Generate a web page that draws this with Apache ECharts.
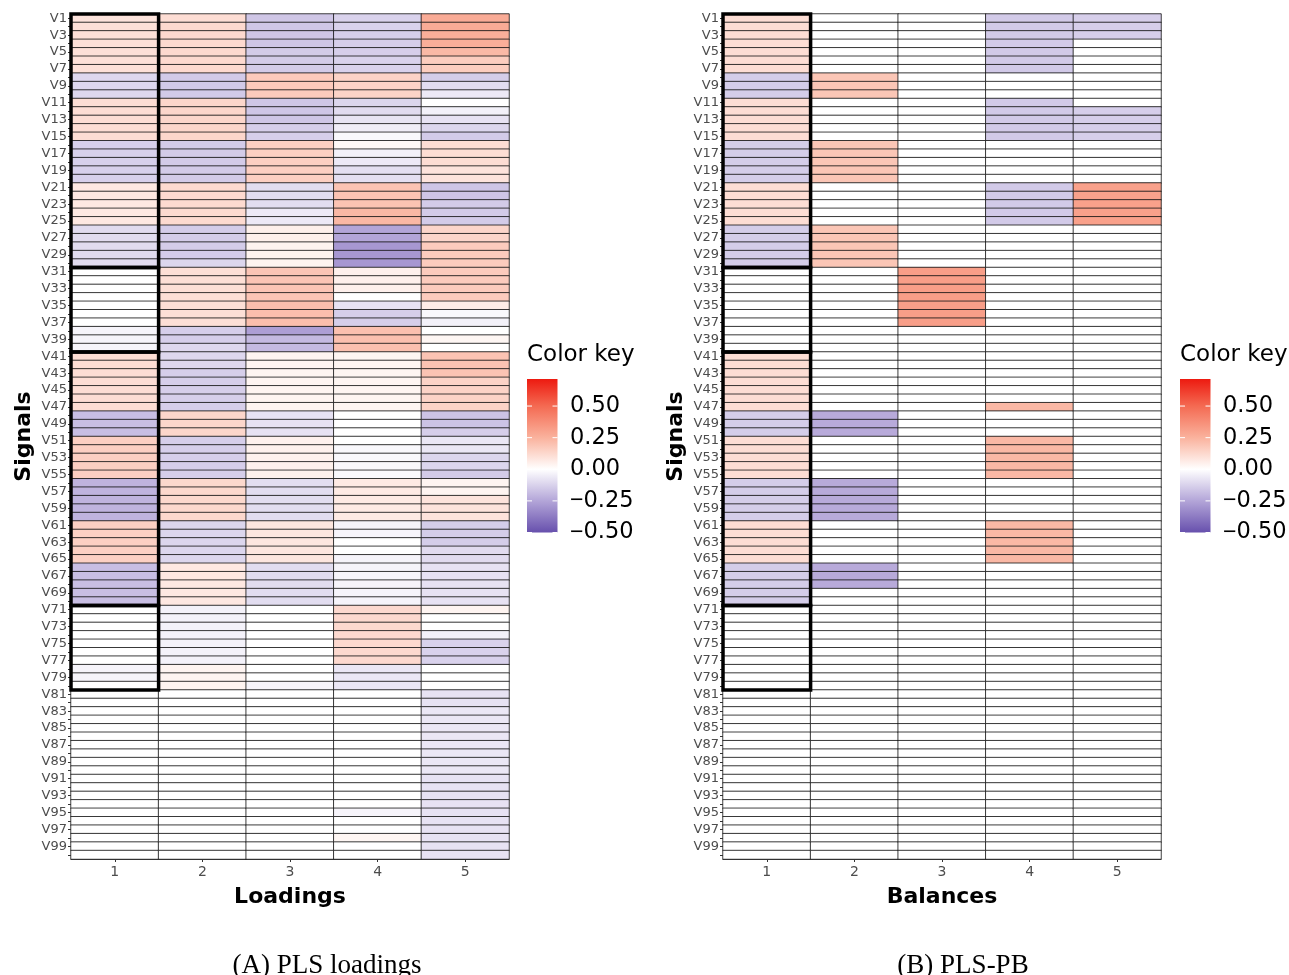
<!DOCTYPE html>
<html>
<head>
<meta charset="utf-8">
<script src="https://cdn.jsdelivr.net/npm/echarts@6/dist/echarts.min.js"></script>
<style>
html,body{margin:0;padding:0;background:#fff;}
#chart{width:1289px;height:975px;}
</style>
</head>
<body>
<div id="chart"></div>
<script>
// ---------- DATA ----------
const components = ['1', '2', '3', '4', '5'];
const signals = Array.from({length: 100}, (_, i) => 'V' + (i + 1));
const keyTicks = [0.5, 0.25, 0, -0.25, -0.5];
const keyTickLabels = ['0.50', '0.25', '0.00', '\u22120.25', '\u22120.50'];
const boxGroups = [[1, 30], [31, 40], [41, 70], [71, 80]]; // row ranges (1-based) boxed in component 1

// PLS loadings (panel A), one array per component, rows V1..V100
const loadComp1 = [
  0.09,0.10,0.10,0.10,0.10,0.10,0.10,-0.11,-0.11,-0.11,
  0.11,0.11,0.11,0.11,0.11,-0.13,-0.13,-0.13,-0.13,-0.13,
  0.075,0.075,0.075,0.075,0.075,-0.10,-0.10,-0.10,-0.10,-0.10,
  0,0,0,0,0,0,0,-0.03,-0.03,-0.03,
  0.11,0.11,0.11,0.11,0.11,0.11,0.11,-0.18,-0.18,-0.18,
  0.156,0.156,0.156,0.156,0.156,-0.21,-0.21,-0.21,-0.21,-0.21,
  0.153,0.153,0.153,0.153,0.153,-0.18,-0.18,-0.18,-0.18,-0.18,
  0,0,0,0,0,0,0,-0.03,-0.03,0,
  0,0,0,0,0,0,0,0,0,0,
  0,0,0,0,0,0,0,0,0,0
];
const loadComp2 = [
  0.11,0.123,0.123,0.123,0.123,0.123,0.123,-0.148,-0.148,-0.148,
  0.133,0.133,0.133,0.133,0.133,-0.145,-0.145,-0.145,-0.145,-0.145,
  0.12,0.12,0.12,0.12,0.12,-0.141,-0.141,-0.141,-0.141,-0.115,
  0.104,0.104,0.104,0.104,0.104,0.104,0.104,-0.135,-0.135,-0.11,
  -0.11,-0.11,-0.135,-0.135,-0.135,-0.135,-0.135,0.133,0.133,0.133,
  -0.135,-0.135,-0.135,-0.135,-0.135,0.127,0.127,0.127,0.127,0.127,
  -0.115,-0.115,-0.115,-0.115,-0.115,0.075,0.075,0.075,0.075,0.075,
  -0.035,-0.035,-0.035,-0.035,-0.035,-0.035,-0.035,0.036,0.036,0.036,
  0,0,0,0,0,0,0,0,0,0,
  0,0,0,0,0,0,0,0,0,0
];
const loadComp3 = [
  -0.158,-0.158,-0.158,-0.158,-0.145,-0.145,-0.145,0.172,0.172,0.172,
  -0.158,-0.158,-0.158,-0.135,-0.135,0.156,0.156,0.156,0.156,0.156,
  -0.095,-0.095,-0.095,-0.06,-0.06,0.05,0.05,0.04,0.04,0.04,
  0.19,0.19,0.19,0.19,0.21,0.21,0.21,-0.27,-0.194,-0.194,
  0.035,0.035,0.035,0.035,0.035,0.035,0.035,-0.08,-0.08,-0.08,
  0.045,0.045,0.045,0.045,0.045,-0.095,-0.095,-0.095,-0.095,-0.095,
  0.081,0.081,0.081,0.081,0.081,-0.095,-0.095,-0.095,-0.095,-0.095,
  0,0,0,0,0,0,0,0,0,-0.03,
  0,0,0,0,0,0,0,0,0,0,
  0,0,0,0,0,0,0,0,0,0
];
const loadComp4 = [
  -0.125,-0.125,-0.135,-0.135,-0.135,-0.125,-0.125,0.143,0.143,0.143,
  -0.115,-0.10,-0.075,-0.05,-0.02,0.02,-0.04,-0.06,-0.09,-0.09,
  0.195,0.195,0.195,0.23,0.23,-0.25,-0.25,-0.29,-0.29,-0.29,
  0.049,0.049,0.049,0,-0.08,-0.135,-0.135,0.205,0.205,0.205,
  0.033,0.033,0.033,0.033,0.033,0.033,0.033,0,0,0,
  0,-0.02,-0.02,-0.02,-0.02,0.068,0.068,0.068,0.068,0.068,
  -0.03,-0.03,0,0,-0.03,-0.03,-0.03,-0.03,-0.03,-0.03,
  0.123,0.123,0.123,0.123,0.123,0.123,0.123,-0.066,-0.066,-0.066,
  0,0,0,0,0,0,0,0,0,0,
  0,0,0,0,-0.03,0,0,0.03,0,0
];
const loadComp5 = [
  0.273,0.273,0.263,0.263,0.227,0.162,0.162,-0.14,-0.095,-0.06,
  0,-0.04,-0.08,-0.115,-0.145,0.11,0.11,0.11,0.09,0.09,
  -0.16,-0.16,-0.145,-0.145,-0.145,0.136,0.136,0.169,0.169,0.169,
  0.169,0.169,0.169,0.169,0.062,-0.02,-0.04,0,0.03,0,
  0.195,0.195,0.195,0.143,0.143,0.143,0.143,-0.168,-0.168,-0.135,
  -0.066,-0.066,-0.115,-0.115,-0.145,0.036,0.036,0.09,0.09,0.09,
  -0.14,-0.14,-0.14,-0.10,-0.10,-0.08,-0.08,-0.08,-0.08,-0.08,
  0.036,0,0,-0.04,-0.125,-0.125,-0.125,0,0,0,
  -0.08,-0.08,-0.066,-0.066,-0.066,-0.066,-0.066,-0.066,-0.066,-0.066,
  -0.08,-0.08,-0.08,-0.08,-0.08,-0.08,-0.08,-0.08,-0.08,-0.08
];

// PLS-PB balances (panel B)
const balComp1 = [
  0.11,0.11,0.11,0.11,0.11,0.11,0.11,-0.14,-0.14,-0.14,
  0.11,0.11,0.11,0.11,0.11,-0.14,-0.14,-0.14,-0.14,-0.14,
  0.11,0.11,0.11,0.11,0.11,-0.14,-0.14,-0.14,-0.14,-0.14,
  0,0,0,0,0,0,0,0,0,0,
  0.11,0.11,0.11,0.11,0.11,0.11,0.11,-0.14,-0.14,-0.14,
  0.11,0.11,0.11,0.11,0.11,-0.14,-0.14,-0.14,-0.14,-0.14,
  0.11,0.11,0.11,0.11,0.11,-0.14,-0.14,-0.14,-0.14,-0.14,
  0,0,0,0,0,0,0,0,0,0,
  0,0,0,0,0,0,0,0,0,0,
  0,0,0,0,0,0,0,0,0,0
];
const balComp2 = [
  0,0,0,0,0,0,0,0.185,0.185,0.185,
  0,0,0,0,0,0.185,0.185,0.185,0.185,0.185,
  0,0,0,0,0,0.185,0.185,0.185,0.185,0.185,
  0,0,0,0,0,0,0,0,0,0,
  0,0,0,0,0,0,0,-0.235,-0.235,-0.235,
  0,0,0,0,0,-0.235,-0.235,-0.235,-0.235,-0.235,
  0,0,0,0,0,-0.235,-0.235,-0.235,0,0,
  0,0,0,0,0,0,0,0,0,0,
  0,0,0,0,0,0,0,0,0,0,
  0,0,0,0,0,0,0,0,0,0
];
const balComp3 = [
  0,0,0,0,0,0,0,0,0,0,
  0,0,0,0,0,0,0,0,0,0,
  0,0,0,0,0,0,0,0,0,0,
  0.32,0.32,0.32,0.32,0.32,0.32,0.32,0,0,0,
  0,0,0,0,0,0,0,0,0,0,
  0,0,0,0,0,0,0,0,0,0,
  0,0,0,0,0,0,0,0,0,0,
  0,0,0,0,0,0,0,0,0,0,
  0,0,0,0,0,0,0,0,0,0,
  0,0,0,0,0,0,0,0,0,0
];
const balComp4 = [
  -0.148,-0.148,-0.148,-0.148,-0.148,-0.148,-0.148,0,0,0,
  -0.148,-0.148,-0.148,-0.148,-0.148,0,0,0,0,0,
  -0.148,-0.148,-0.148,-0.148,-0.148,0,0,0,0,0,
  0,0,0,0,0,0,0,0,0,0,
  0,0,0,0,0,0,0.23,0,0,0,
  0.23,0.23,0.23,0.23,0.23,0,0,0,0,0,
  0.23,0.23,0.23,0.23,0.23,0,0,0,0,0,
  0,0,0,0,0,0,0,0,0,0,
  0,0,0,0,0,0,0,0,0,0,
  0,0,0,0,0,0,0,0,0,0
];
const balComp5 = [
  -0.135,-0.135,-0.135,0,0,0,0,0,0,0,
  0,-0.135,-0.135,-0.135,-0.135,0,0,0,0,0,
  0.31,0.31,0.31,0.31,0.31,0,0,0,0,0,
  0,0,0,0,0,0,0,0,0,0,
  0,0,0,0,0,0,0,0,0,0,
  0,0,0,0,0,0,0,0,0,0,
  0,0,0,0,0,0,0,0,0,0,
  0,0,0,0,0,0,0,0,0,0,
  0,0,0,0,0,0,0,0,0,0,
  0,0,0,0,0,0,0,0,0,0
];

// ---------- BUILD ----------
const loadCols = [loadComp1, loadComp2, loadComp3, loadComp4, loadComp5];
const balCols = [balComp1, balComp2, balComp3, balComp4, balComp5];
function toCells(cols) {
  const out = [];
  cols.forEach((arr, c) => arr.forEach((v, r) => out.push([c, r, v])));
  return out;
}
const boxData = boxGroups.map(g => [0, g[0] - 1, g[1] - 1]);

const FONT = "'DejaVu Sans', 'Liberation Sans', Arial, sans-serif";
const NARROW = "'Liberation Sans', Arial, sans-serif";
const SERIF = "'Liberation Serif', 'Times New Roman', serif";
const scaleColors = ['#6750ad', '#b3a5d8', '#ffffff', '#fab29d', '#f46a52', '#ec0c08'];

const grids = [
  {left: 71, top: 14, width: 438, height: 845},
  {left: 723, top: 14, width: 438, height: 845}
];
const xNames = ['Loadings', 'Balances'];

function xAxisCfg(i) {
  return {
    type: 'category', gridIndex: i, data: components, position: 'bottom',
    axisLine: {show: true, lineStyle: {color: '#333', width: 1}},
    axisTick: {show: true, alignWithLabel: true, length: 3, lineStyle: {color: '#333'}},
    axisLabel: {fontSize: 14, color: '#4d4d4d', margin: 6, fontFamily: FONT},
    splitLine: {show: false}, splitArea: {show: false},
    name: xNames[i], nameLocation: 'middle', nameGap: 27,
    nameTextStyle: {fontSize: 22, fontWeight: 'bold', color: '#000', fontFamily: FONT}
  };
}
function yAxisCfg(i) {
  return {
    type: 'category', gridIndex: i, data: signals, inverse: true,
    axisLine: {show: true, lineStyle: {color: '#333', width: 1}},
    axisTick: {show: true, alignWithLabel: true, interval: 0, length: 3, lineStyle: {color: '#333'}},
    axisLabel: {interval: 1, fontSize: 13, color: '#4d4d4d', margin: 4, fontFamily: FONT},
    splitLine: {show: false}, splitArea: {show: false},
    name: 'Signals', nameLocation: 'middle', nameGap: 36, nameRotate: 90,
    nameTextStyle: {fontSize: 22, fontWeight: 'bold', color: '#000', fontFamily: FONT}
  };
}

function heatSeries(i, cols) {
  return {
    type: 'heatmap', xAxisIndex: i, yAxisIndex: i, data: toCells(cols),
    itemStyle: {borderColor: '#111', borderWidth: 0.8},
    emphasis: {disabled: true}, silent: true, animation: false
  };
}
function boxSeries(i) {
  return {
    type: 'custom', xAxisIndex: i, yAxisIndex: i, data: boxData, silent: true, z: 10,
    animation: false,
    renderItem: function (params, api) {
      const p1 = api.coord([api.value(0), api.value(1)]);
      const p2 = api.coord([api.value(0), api.value(2)]);
      const s = api.size([1, 1]);
      return {
        type: 'rect',
        shape: {x: p1[0] - s[0] / 2, y: p1[1] - s[1] / 2, width: s[0], height: p2[1] - p1[1] + s[1]},
        style: {fill: null, stroke: '#000', lineWidth: 3.5}
      };
    }
  };
}

// Colour key graphics
const keyTop = 379, keyBottom = 532.5, keyMax = 0.714, keyMin = -0.5;
function keyY(v) { return keyTop + (keyMax - v) / (keyMax - keyMin) * (keyBottom - keyTop); }
function keyGraphics(x) {
  const stopsVals = [keyMax, 0.5, 0.25, 0, -0.25, -0.5];
  const stopsCols = ['#ed1a10', '#f46a52', '#fab29d', '#ffffff', '#b3a5d8', '#6750ad'];
  const g = [];
  g.push({type: 'text', left: x, top: 344, style: {text: 'Color key', fontSize: 23, fill: '#000', fontFamily: FONT}});
  g.push({type: 'rect', shape: {x: x, y: keyTop, width: 30.5, height: keyBottom - keyTop},
    style: {fill: {type: 'linear', x: 0, y: 0, x2: 0, y2: 1,
      colorStops: stopsVals.map((v, k) => ({offset: (keyMax - v) / (keyMax - keyMin), color: stopsCols[k]}))}}});
  keyTicks.forEach((t, k) => {
    const y = keyY(t);
    const lab = keyTickLabels[k];
    const txt = lab.charAt(0) === '\u2212' ? '{m|\u2212}{n|' + lab.slice(1) + '}' : '{n|' + lab + '}';
    g.push({type: 'line', shape: {x1: x, y1: y, x2: x + 5, y2: y}, style: {stroke: '#fff', lineWidth: 1}});
    g.push({type: 'line', shape: {x1: x + 25.5, y1: y, x2: x + 30.5, y2: y}, style: {stroke: '#fff', lineWidth: 1}});
    g.push({type: 'text', x: x + 43, y: y, style: {text: txt, fill: '#000',
      verticalAlign: 'middle', textVerticalAlign: 'middle',
      rich: {
        m: {fontSize: 23, fontFamily: NARROW, fill: '#000'},
        n: {fontSize: 22.5, fontFamily: FONT, fill: '#000'}
      }}});
  });
  return g;
}

const graphics = [].concat(
  keyGraphics(527),
  keyGraphics(1180),
  [
    {type: 'text', x: 327, y: 966, style: {text: '(A) PLS loadings', fontSize: 27, fill: '#000',
      fontFamily: SERIF, textAlign: 'center', align: 'center',
      textVerticalAlign: 'middle', verticalAlign: 'middle'}},
    {type: 'text', x: 963, y: 966, style: {text: '(B) PLS-PB', fontSize: 27, fill: '#000',
      fontFamily: SERIF, textAlign: 'center', align: 'center',
      textVerticalAlign: 'middle', verticalAlign: 'middle'}}
  ]
);

const chart = echarts.init(document.getElementById('chart'), null, {renderer: 'canvas'});
chart.setOption({
  animation: false,
  backgroundColor: '#fff',
  grid: grids,
  xAxis: [xAxisCfg(0), xAxisCfg(1)],
  yAxis: [yAxisCfg(0), yAxisCfg(1)],
  visualMap: {
    type: 'continuous', show: false, min: -0.5, max: 0.75, dimension: 2,
    seriesIndex: [0, 1], inRange: {color: scaleColors}
  },
  series: [heatSeries(0, loadCols), heatSeries(1, balCols), boxSeries(0), boxSeries(1)],
  graphic: graphics
});
</script>
</body>
</html>
